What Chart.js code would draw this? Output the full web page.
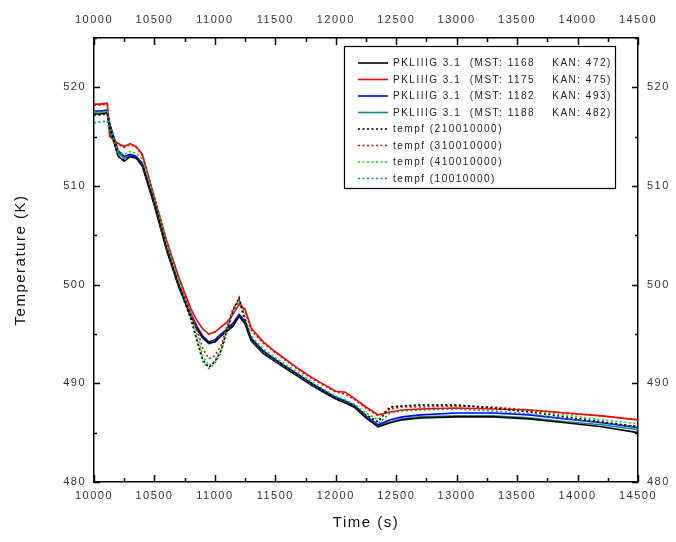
<!DOCTYPE html>
<html>
<head>
<meta charset="utf-8">
<script src="https://cdn.jsdelivr.net/npm/chart.js@4.4.1/dist/chart.umd.min.js"></script>
<style>
html,body{margin:0;padding:0;background:#fff;}
#wrap{width:676px;height:542px;}
</style>
</head>
<body>
<div id="wrap"><canvas id="c" width="676" height="542"></canvas></div>
<script>
// ---- data ----
const times = [10000,10050,10110,10130,10200,10250,10300,10350,10400,10450,10500,10600,10700,10800,10850,10900,10950,11000,11050,11100,11150,11200,11250,11300,11400,11500,11600,11700,11800,11900,12000,12080,12150,12250,12350,12450,12550,12700,13000,13300,13600,13900,14200,14500];

const pk1168 = [517.3,517.3,517.4,516.0,513.0,512.5,513.0,512.8,512.0,510.0,508.0,503.5,499.8,496.8,495.5,494.6,494.1,494.2,494.8,495.3,495.8,496.8,496.0,494.3,493.0,492.2,491.4,490.6,489.8,489.1,488.4,488.0,487.6,486.5,485.6,486.0,486.3,486.5,486.6,486.6,486.4,486.0,485.6,485.0];
const pk1175 = [518.3,518.3,518.4,515.0,514.3,514.0,514.3,514.0,513.2,511.0,508.8,504.5,500.8,497.6,496.4,495.5,495.0,495.2,495.7,496.2,497.0,498.0,497.5,495.6,494.2,493.2,492.3,491.4,490.6,489.9,489.2,489.1,488.5,487.6,486.8,487.1,487.3,487.4,487.5,487.4,487.3,487.0,486.7,486.3];
const pk1182 = [517.6,517.6,517.7,516.3,513.6,513.0,513.2,513.0,512.3,510.3,508.3,503.8,500.1,497.1,495.8,494.8,494.2,494.4,495.0,495.5,496.1,497.0,496.3,494.6,493.3,492.4,491.6,490.8,490.0,489.3,488.6,488.2,487.8,486.7,485.8,486.3,486.6,486.8,487.0,487.0,486.8,486.4,486.0,485.5];
const pk1188 = [517.5,517.5,517.5,516.2,513.4,512.8,513.1,512.9,512.1,510.1,508.1,503.6,499.9,496.9,495.6,494.6,494.0,494.2,494.8,495.4,496.0,496.9,496.2,494.4,493.1,492.3,491.5,490.7,489.9,489.2,488.5,488.1,487.7,486.6,485.7,486.1,486.4,486.6,486.7,486.7,486.5,486.1,485.8,485.3];
const tempf2100 = [517.2,517.2,517.3,515.8,513.0,512.6,513.0,512.8,512.1,510.2,508.3,503.8,500.0,496.6,494.5,492.4,491.6,492.2,493.3,495.4,497.4,498.7,496.4,494.5,493.2,492.4,491.6,490.8,490.0,489.2,488.5,488.1,487.7,486.8,486.1,487.6,487.7,487.8,487.8,487.5,487.1,486.6,486.1,485.6];
const tempf3100 = [518.2,518.2,518.3,515.2,514.2,513.9,514.2,513.9,513.1,511.0,508.9,504.4,500.7,497.3,495.5,493.5,492.5,492.8,493.8,495.8,497.6,498.4,497.2,495.4,494.1,493.1,492.2,491.3,490.5,489.8,489.1,488.9,488.4,487.5,486.7,487.4,487.6,487.6,487.7,487.6,487.3,487.0,486.7,486.3];
const tempf4100 = [517.5,517.5,517.6,516.0,513.5,513.2,513.5,513.3,512.7,510.8,508.8,504.2,500.4,497.0,495.0,492.8,491.8,492.3,493.4,495.5,497.4,498.5,496.7,494.8,493.5,492.6,491.8,491.0,490.2,489.4,488.7,488.3,487.9,487.0,486.3,487.6,487.7,487.8,487.8,487.5,487.2,486.8,486.3,485.9];
const tempf1001 = [516.4,516.5,516.6,515.5,513.2,512.7,513.0,512.8,512.1,510.1,508.1,503.6,499.8,496.5,494.3,492.2,491.5,492.0,493.1,495.2,497.2,498.3,496.2,494.4,493.1,492.3,491.5,490.7,489.9,489.2,488.5,488.1,487.7,486.7,485.9,487.0,487.2,487.3,487.4,487.2,486.9,486.4,486.0,485.6];

const seriesLabels = ['PKLIIIG 3.1  (MST: 1168    KAN: 472)','PKLIIIG 3.1  (MST: 1175    KAN: 475)','PKLIIIG 3.1  (MST: 1182    KAN: 493)','PKLIIIG 3.1  (MST: 1188    KAN: 482)','tempf (210010000)','tempf (310010000)','tempf (410010000)','tempf (10010000)'];
const seriesValues = [pk1168,pk1175,pk1182,pk1188,tempf2100,tempf3100,tempf4100,tempf1001];
const seriesColors = ['#000000','#ff0000','#0000ff','#138a8a','#000000','#ff0000','#00e000','#138a8a'];
const seriesDotted = [false,false,false,false,true,true,true,true];

const xTicksRange = {min:10000, max:14500, step:500, minor:250};
const yTicksRange = {min:480, max:525, step:10, minor:5};

const FONT = "'Liberation Sans', Arial, sans-serif";
Chart.defaults.font.family = FONT;

const datasets = seriesValues.map((vals,i)=>({
  label: seriesLabels[i],
  data: times.map((t,k)=>({x:t,y:vals[k]})),
  borderColor: seriesColors[i],
  backgroundColor: seriesColors[i],
  borderWidth: 1.6,
  borderDash: seriesDotted[i] ? [2,2.5] : [],
  pointRadius: 0,
  tension: 0,
  fill: false,
  order: seriesDotted[i] ? i - 10 : i
}));

const spacing = {
  id:'spacing',
  beforeLayout(chart){ chart.ctx.letterSpacing = '1.5px'; },
  beforeDraw(chart){ chart.ctx.letterSpacing = '1.5px'; }
};

const innerTicks = {
  id:'innerTicks',
  afterDatasetsDraw(chart){
    const {ctx, chartArea:a, scales} = chart;
    const x = scales.x, y = scales.y;
    ctx.save();
    ctx.strokeStyle = '#000';
    ctx.lineWidth = 1.5;
    ctx.beginPath();
    for (let v = xTicksRange.min; v <= xTicksRange.max; v += xTicksRange.minor){
      const px = Math.round(x.getPixelForValue(v)) + 0.5;
      const len = (v % xTicksRange.step === 0) ? 7 : 4;
      ctx.moveTo(px, a.bottom); ctx.lineTo(px, a.bottom - len);
      ctx.moveTo(px, a.top); ctx.lineTo(px, a.top + len);
    }
    for (let v = yTicksRange.min; v <= yTicksRange.max; v += yTicksRange.minor){
      const py = Math.round(y.getPixelForValue(v)) + 0.5;
      const len = (v % yTicksRange.step === 0) ? 6 : 3;
      ctx.moveTo(a.left, py); ctx.lineTo(a.left + len, py);
      ctx.moveTo(a.right, py); ctx.lineTo(a.right - len, py);
    }
    ctx.stroke();
    ctx.restore();
  }
};

const boxLegend = {
  id:'boxLegend',
  afterDraw(chart){
    const {ctx, chartArea:a} = chart;
    const w = 271, h = 142;
    const left = a.right - 294, top = a.top + 8;
    ctx.save();
    ctx.letterSpacing = '1.5px';
    ctx.fillStyle = '#fff';
    ctx.fillRect(left, top, w, h);
    ctx.strokeStyle = '#000';
    ctx.lineWidth = 1.2;
    ctx.strokeRect(left + 0.5, top + 0.5, w, h);
    ctx.font = '10px ' + FONT;
    ctx.textBaseline = 'middle';
    ctx.textAlign = 'left';
    chart.data.datasets.forEach((ds,i)=>{
      const yy = top + 17 + i * 16.5;
      ctx.beginPath();
      ctx.strokeStyle = ds.borderColor;
      ctx.lineWidth = 1.6;
      ctx.setLineDash(ds.borderDash || []);
      ctx.moveTo(left + 14, yy); ctx.lineTo(left + 44, yy);
      ctx.stroke();
      ctx.setLineDash([]);
      ctx.fillStyle = '#222';
      ctx.fillText(ds.label, left + 49, yy + 0.5);
    });
    ctx.restore();
  }
};

const tickFont = {size:11, family:FONT};
const tickColor = '#333';
const border = {display:true, color:'#000', width:1.5};
const plainNum = v => String(v);
const onlyMajorY = s => { s.ticks = s.ticks.filter(t => t.value % yTicksRange.step === 0); };

new Chart(document.getElementById('c'), {
  type:'line',
  data:{ datasets },
  options:{
    responsive:false,
    animation:false,
    layout:{padding:0},
    plugins:{ legend:{display:false}, tooltip:{enabled:false} },
    scales:{
      x:{ type:'linear', position:'bottom', min:xTicksRange.min, max:xTicksRange.max,
          ticks:{stepSize:xTicksRange.step, font:tickFont, color:tickColor, padding:7, maxRotation:0, autoSkip:false, callback:plainNum},
          grid:{display:false, drawTicks:false}, border,
          title:{display:true, text:'Time (s)', font:{size:15, family:FONT}, color:'#111', padding:{bottom:10, top:0}},
          afterFit: s => { s.height = 60; } },
      x2:{ type:'linear', position:'top', min:xTicksRange.min, max:xTicksRange.max,
          ticks:{stepSize:xTicksRange.step, font:tickFont, color:tickColor, padding:11, maxRotation:0, autoSkip:false, callback:plainNum},
          grid:{display:false, drawTicks:false}, border,
          afterFit: s => { s.height = 38; } },
      y:{ type:'linear', position:'left', min:yTicksRange.min, max:yTicksRange.max,
          ticks:{stepSize:yTicksRange.step, font:tickFont, color:tickColor, padding:8, callback:plainNum},
          afterBuildTicks: onlyMajorY,
          grid:{display:false, drawTicks:false}, border,
          title:{display:true, text:'Temperature (K)', font:{size:15, family:FONT}, color:'#111', padding:{top:12, bottom:0}},
          afterFit: s => { s.width = 94; } },
      y2:{ type:'linear', position:'right', min:yTicksRange.min, max:yTicksRange.max,
          ticks:{stepSize:yTicksRange.step, font:tickFont, color:tickColor, padding:9, callback:plainNum},
          afterBuildTicks: onlyMajorY,
          grid:{display:false, drawTicks:false}, border,
          afterFit: s => { s.width = 38; } }
    }
  },
  plugins:[spacing, innerTicks, boxLegend]
});
</script>
</body>
</html>
